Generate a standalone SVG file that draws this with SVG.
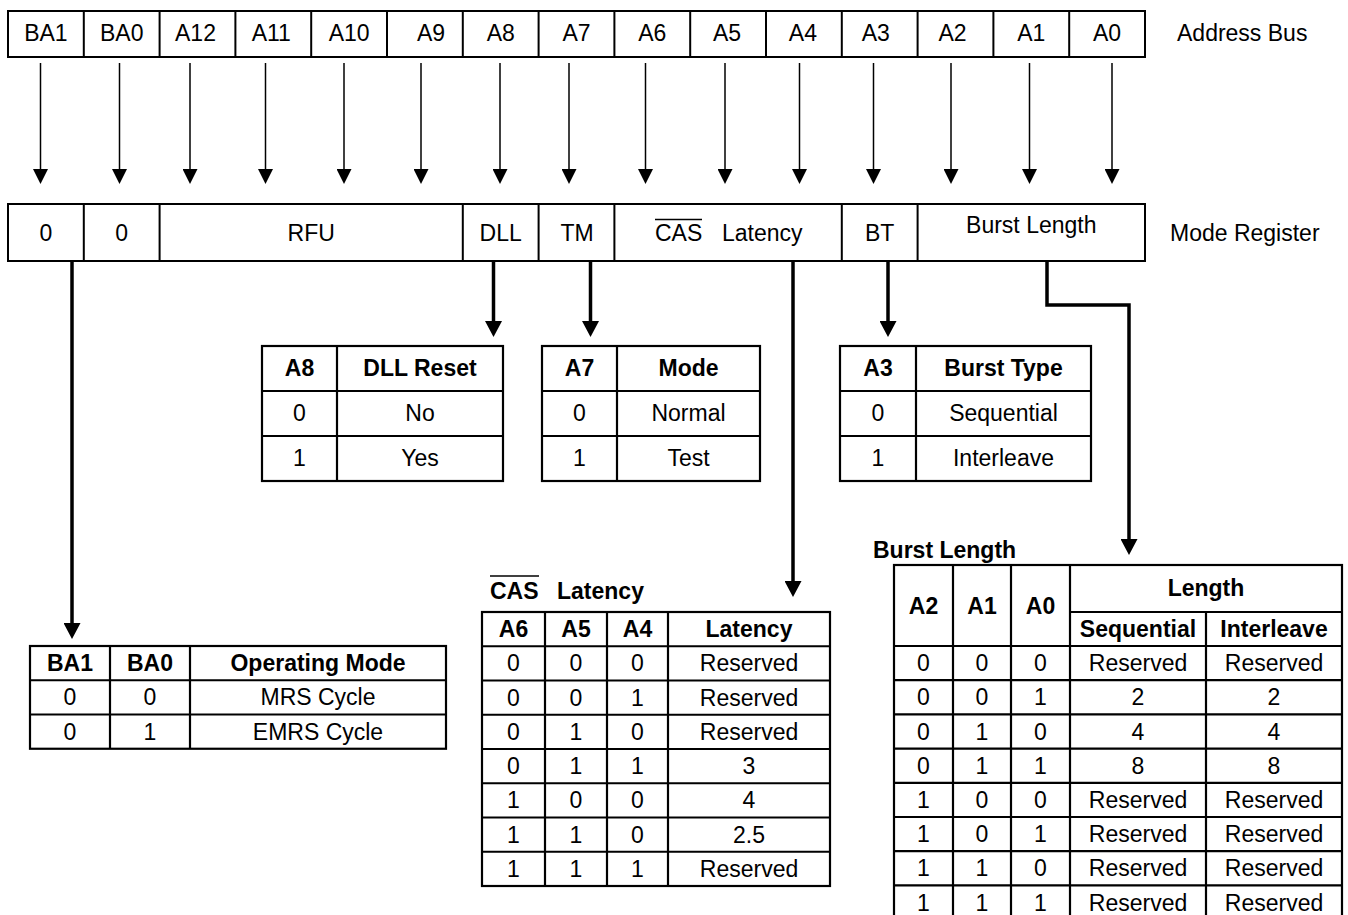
<svg xmlns="http://www.w3.org/2000/svg" width="1348" height="915" viewBox="0 0 1348 915">
<defs>
<marker id="ah" viewBox="0 0 15 15" refX="0" refY="7.5" markerWidth="15" markerHeight="15" markerUnits="userSpaceOnUse" orient="auto"><path d="M0,0 L15,7.5 L0,15 z" fill="#000"/></marker>
<marker id="ahb" viewBox="0 0 16 17" refX="0" refY="8.5" markerWidth="16" markerHeight="17" markerUnits="userSpaceOnUse" orient="auto"><path d="M0,0 L16,8.5 L0,17 z" fill="#000"/></marker>
</defs>
<style>
text{font-family:"Liberation Sans",Arial,sans-serif;font-size:23px;fill:#000;text-anchor:middle}
.b{font-weight:bold}
.l{text-anchor:start}
.box{fill:#fff;stroke:#000;stroke-width:2}
.grid{stroke:#000;stroke-width:2;fill:none}
.tb{fill:#fff;stroke:#000;stroke-width:2.2}
.tg{stroke:#000;stroke-width:2.2;fill:none}
.thin{stroke:#000;stroke-width:1.5;fill:none;marker-end:url(#ah)}
.thick{stroke:#000;stroke-width:3.5;fill:none;marker-end:url(#ahb)}
.ov{stroke:#000;stroke-width:1.6}
</style>
<rect width="1348" height="915" fill="#fff"/>

<g id="address-bus">
<rect class="box" x="8" y="11" width="1137" height="46"/>
<path class="grid" d="M83.8,11V57M159.6,11V57M235.4,11V57M311.2,11V57M387,11V57M462.8,11V57M538.6,11V57M614.4,11V57M690.2,11V57M766,11V57M841.8,11V57M917.6,11V57M993.4,11V57M1069.2,11V57"/>
<text x="45.9" y="41">BA1</text>
<text x="121.7" y="41">BA0</text>
<text x="195.5" y="41">A12</text>
<text x="271.3" y="41">A11</text>
<text x="349.1" y="41">A10</text>
<text x="431" y="41">A9</text>
<text x="500.7" y="41">A8</text>
<text x="576.5" y="41">A7</text>
<text x="652.3" y="41">A6</text>
<text x="727.1" y="41">A5</text>
<text x="802.9" y="41">A4</text>
<text x="875.7" y="41">A3</text>
<text x="952.5" y="41">A2</text>
<text x="1031.3" y="41">A1</text>
<text x="1107.1" y="41">A0</text>
<text class="l" x="1177" y="41">Address Bus</text>
</g>

<g id="mode-register">
<rect class="box" x="8" y="204" width="1137" height="57"/>
<path class="grid" d="M83.8,204V261M159.6,204V261M462.8,204V261M538.6,204V261M614.4,204V261M841.8,204V261M917.6,204V261"/>
<text x="45.9" y="241">0</text>
<text x="121.7" y="241">0</text>
<text x="311.2" y="241">RFU</text>
<text x="500.7" y="241">DLL</text>
<text x="577" y="241">TM</text>
<text class="l" x="655" y="241">CAS</text>
<line class="ov" x1="655" y1="219.5" x2="702" y2="219.5"/>
<text class="l" x="722" y="241">Latency</text>
<text x="879.7" y="241">BT</text>
<text x="1031.3" y="233">Burst Length</text>
<text class="l" x="1170" y="241">Mode Register</text>
</g>

<g id="connectors">
<line class="thin" x1="40.5" y1="63" x2="40.5" y2="169"/>
<line class="thin" x1="119.5" y1="63" x2="119.5" y2="169"/>
<line class="thin" x1="190" y1="63" x2="190" y2="169"/>
<line class="thin" x1="265.5" y1="63" x2="265.5" y2="169"/>
<line class="thin" x1="344" y1="63" x2="344" y2="169"/>
<line class="thin" x1="421" y1="63" x2="421" y2="169"/>
<line class="thin" x1="500" y1="63" x2="500" y2="169"/>
<line class="thin" x1="569" y1="63" x2="569" y2="169"/>
<line class="thin" x1="645.5" y1="63" x2="645.5" y2="169"/>
<line class="thin" x1="725" y1="63" x2="725" y2="169"/>
<line class="thin" x1="799.5" y1="63" x2="799.5" y2="169"/>
<line class="thin" x1="873.5" y1="63" x2="873.5" y2="169"/>
<line class="thin" x1="951" y1="63" x2="951" y2="169"/>
<line class="thin" x1="1029.5" y1="63" x2="1029.5" y2="169"/>
<line class="thin" x1="1112" y1="63" x2="1112" y2="169"/>
<path class="thick" d="M72,261V623"/>
<path class="thick" d="M493.5,261V321"/>
<path class="thick" d="M590.5,261V321"/>
<path class="thick" d="M888,261V321"/>
<path class="thick" d="M793,261V581"/>
<path class="thick" d="M1047,261V305H1129V539"/>
</g>

<g id="dll-table">
<rect class="tb" x="262" y="346" width="241" height="135"/>
<path class="tg" d="M337,346V481M262,391H503M262,436H503"/>
<text class="b" x="299.5" y="376">A8</text>
<text class="b" x="420" y="376">DLL Reset</text>
<text x="299.5" y="421">0</text>
<text x="420" y="421">No</text>
<text x="299.5" y="466">1</text>
<text x="420" y="466">Yes</text>
</g>

<g id="tm-table">
<rect class="tb" x="542" y="346" width="218" height="135"/>
<path class="tg" d="M617,346V481M542,391H760M542,436H760"/>
<text class="b" x="579.5" y="376">A7</text>
<text class="b" x="688.5" y="376">Mode</text>
<text x="579.5" y="421">0</text>
<text x="688.5" y="421">Normal</text>
<text x="579.5" y="466">1</text>
<text x="688.5" y="466">Test</text>
</g>

<g id="bt-table">
<rect class="tb" x="840" y="346" width="251" height="135"/>
<path class="tg" d="M916,346V481M840,391H1091M840,436H1091"/>
<text class="b" x="878" y="376">A3</text>
<text class="b" x="1003.5" y="376">Burst Type</text>
<text x="878" y="421">0</text>
<text x="1003.5" y="421">Sequential</text>
<text x="878" y="466">1</text>
<text x="1003.5" y="466">Interleave</text>
</g>

<g id="operating-mode-table">
<rect class="tb" x="30" y="646" width="416" height="102.75"/>
<path class="tg" d="M110,646V748.75M190,646V748.75M30,680.25H446M30,714.5H446"/>
<text class="b" x="70" y="671">BA1</text>
<text class="b" x="150" y="671">BA0</text>
<text class="b" x="318" y="671">Operating Mode</text>
<text x="70" y="705">0</text>
<text x="150" y="705">0</text>
<text x="318" y="705">MRS Cycle</text>
<text x="70" y="739.5">0</text>
<text x="150" y="739.5">1</text>
<text x="318" y="739.5">EMRS Cycle</text>
</g>

<g id="cas-latency-table">
<text class="b l" x="490" y="599">CAS</text>
<line class="ov" x1="490" y1="576" x2="539" y2="576"/>
<text class="b l" x="557" y="599">Latency</text>
<rect class="tb" x="482" y="612" width="348" height="274"/>
<path class="tg" d="M545,612V886M607,612V886M668,612V886M482,646.25H830M482,680.5H830M482,714.75H830M482,749H830M482,783.25H830M482,817.5H830M482,851.75H830"/>
<text class="b" x="513.5" y="637">A6</text>
<text class="b" x="576" y="637">A5</text>
<text class="b" x="637.5" y="637">A4</text>
<text class="b" x="749" y="637">Latency</text>
<text x="513.5" y="671">0</text><text x="576" y="671">0</text><text x="637.5" y="671">0</text><text x="749" y="671">Reserved</text>
<text x="513.5" y="705.5">0</text><text x="576" y="705.5">0</text><text x="637.5" y="705.5">1</text><text x="749" y="705.5">Reserved</text>
<text x="513.5" y="739.5">0</text><text x="576" y="739.5">1</text><text x="637.5" y="739.5">0</text><text x="749" y="739.5">Reserved</text>
<text x="513.5" y="774">0</text><text x="576" y="774">1</text><text x="637.5" y="774">1</text><text x="749" y="774">3</text>
<text x="513.5" y="808">1</text><text x="576" y="808">0</text><text x="637.5" y="808">0</text><text x="749" y="808">4</text>
<text x="513.5" y="842.5">1</text><text x="576" y="842.5">1</text><text x="637.5" y="842.5">0</text><text x="749" y="842.5">2.5</text>
<text x="513.5" y="876.5">1</text><text x="576" y="876.5">1</text><text x="637.5" y="876.5">1</text><text x="749" y="876.5">Reserved</text>
</g>

<g id="burst-length-table">
<text class="b l" x="873" y="558">Burst Length</text>
<rect class="tb" x="894" y="565" width="448" height="355"/>
<path class="tg" d="M953,565V920M1011,565V920M1070,565V920M1206,612V920M1070,612H1342M894,646H1342M894,680.2H1342M894,714.4H1342M894,748.6H1342M894,782.8H1342M894,817H1342M894,851.2H1342M894,885.4H1342"/>
<text class="b" x="923.5" y="614">A2</text>
<text class="b" x="982" y="614">A1</text>
<text class="b" x="1040.5" y="614">A0</text>
<text class="b" x="1206" y="596">Length</text>
<text class="b" x="1138" y="637">Sequential</text>
<text class="b" x="1274" y="637">Interleave</text>
<text x="923.5" y="671">0</text><text x="982" y="671">0</text><text x="1040.5" y="671">0</text><text x="1138" y="671">Reserved</text><text x="1274" y="671">Reserved</text>
<text x="923.5" y="705">0</text><text x="982" y="705">0</text><text x="1040.5" y="705">1</text><text x="1138" y="705">2</text><text x="1274" y="705">2</text>
<text x="923.5" y="739.5">0</text><text x="982" y="739.5">1</text><text x="1040.5" y="739.5">0</text><text x="1138" y="739.5">4</text><text x="1274" y="739.5">4</text>
<text x="923.5" y="773.5">0</text><text x="982" y="773.5">1</text><text x="1040.5" y="773.5">1</text><text x="1138" y="773.5">8</text><text x="1274" y="773.5">8</text>
<text x="923.5" y="808">1</text><text x="982" y="808">0</text><text x="1040.5" y="808">0</text><text x="1138" y="808">Reserved</text><text x="1274" y="808">Reserved</text>
<text x="923.5" y="842">1</text><text x="982" y="842">0</text><text x="1040.5" y="842">1</text><text x="1138" y="842">Reserved</text><text x="1274" y="842">Reserved</text>
<text x="923.5" y="876">1</text><text x="982" y="876">1</text><text x="1040.5" y="876">0</text><text x="1138" y="876">Reserved</text><text x="1274" y="876">Reserved</text>
<text x="923.5" y="910.5">1</text><text x="982" y="910.5">1</text><text x="1040.5" y="910.5">1</text><text x="1138" y="910.5">Reserved</text><text x="1274" y="910.5">Reserved</text>
</g>
</svg>
